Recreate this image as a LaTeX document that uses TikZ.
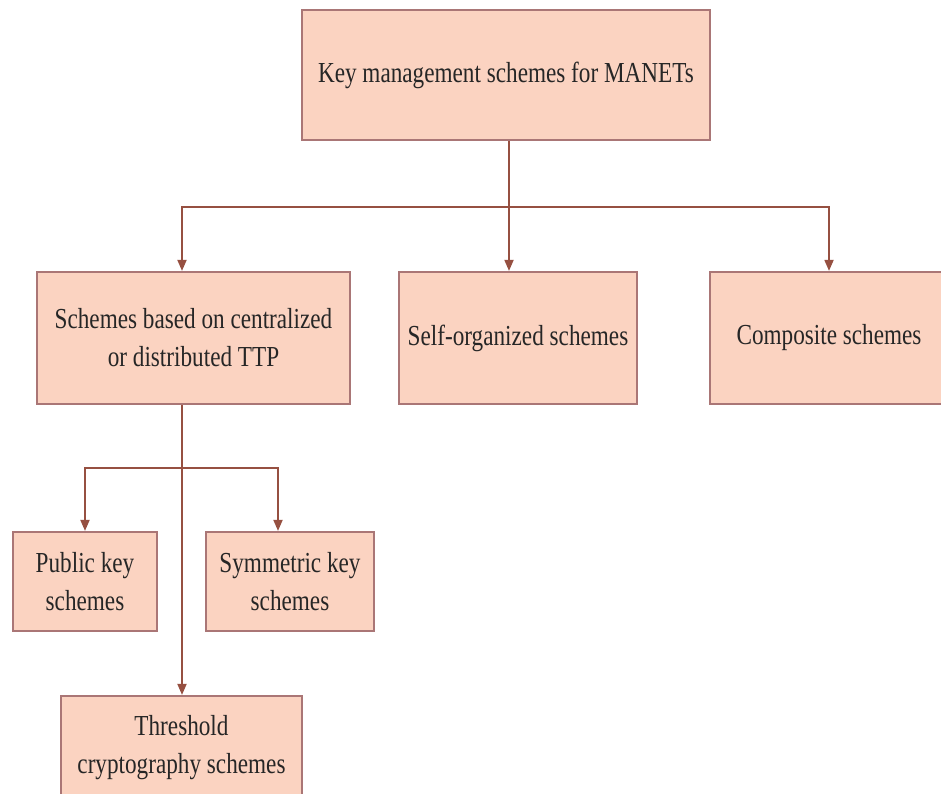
\documentclass[tikz,border=0pt]{standalone}
\usepackage{fontspec}
\setmainfont{Liberation Serif}[FakeStretch=0.8]
\usetikzlibrary{arrows.meta}
\definecolor{boxfill}{RGB}{251,211,193}
\definecolor{boxline}{RGB}{170,118,118}
\definecolor{arrcol}{RGB}{150,80,65}
\tikzset{
  box/.style={draw=boxline, fill=boxfill, line width=2.2pt, align=center, inner sep=0pt,
    font=\fontsize{29}{38}\selectfont, text=black!85},
  conn/.style={draw=arrcol, line width=1.8pt},
  arr/.style={conn, -{Triangle[length=11pt,width=9pt]}}
}
\begin{document}
\begin{tikzpicture}[x=1pt,y=-1pt]
\useasboundingbox (0,0) rectangle (941,793);
\node[box, minimum width=408pt, minimum height=130pt] (top) at (506,75) {\raisebox{-4pt}{Key management schemes for MANETs}};
\node[box, minimum width=313pt, minimum height=132pt] (ttp) at (193.5,338) {Schemes based on centralized\\or distributed TTP};
\node[box, minimum width=238pt, minimum height=132pt] (self) at (518,338) {Self-organized schemes};
\node[box, minimum width=238pt, minimum height=132pt] (comp) at (829,338) {Composite schemes};
\node[box, minimum width=144pt, minimum height=99pt] (pub) at (85,581.5) {Public key\\schemes};
\node[box, minimum width=168pt, minimum height=99pt] (sym) at (290,581.5) {Symmetric key\\schemes};
\node[box, minimum width=241pt, minimum height=104pt] (thr) at (181.5,748) {Threshold\\cryptography schemes};
\coordinate (j1) at (509,207);
\coordinate (a1) at (182,207);
\coordinate (j2) at (182,468);
\coordinate (a2) at (278,468);
\draw[conn] (j1 |- top.south) -- (j1);
\draw[arr] (j1) -- (j1 |- self.north);
\draw[arr] (j1) -- (a1) -- (a1 |- ttp.north);
\draw[arr] (j1) -| (comp.north);
\draw[arr] (j2 |- ttp.south) -- (j2 |- thr.north);
\draw[arr] (j2) -| (pub.north);
\draw[arr] (j2) -- (a2) -- (a2 |- sym.north);
\end{tikzpicture}
\end{document}
